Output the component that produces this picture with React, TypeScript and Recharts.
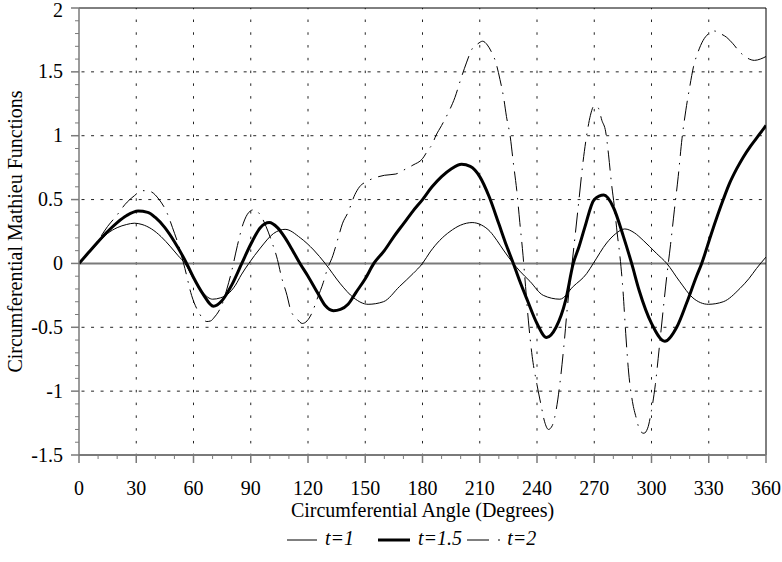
import { LineChart, Line, XAxis, YAxis, CartesianGrid, ReferenceLine, Legend, Label } from "recharts"

const serif = "'Liberation Serif', 'Times New Roman', serif"
const axisColor = "#7a7a7a"
const gridColor = "#222"

// t = 1 (thin)
const t1Angles = [0, 5, 10, 15, 20, 25, 29, 33, 38, 43, 48, 52, 55.5, 60, 65, 70, 74, 78, 82, 85, 89, 95, 102, 108, 116, 123, 129, 137, 144, 151.5, 159.5, 168, 175, 180, 184, 189, 194.4, 200, 206, 211, 215.4, 219, 222.4, 227.6, 231, 236.3, 243.3, 252, 259, 266, 269.5, 276.5, 281, 286, 291, 295.7, 302.5, 308, 314.7, 321.7, 329.8, 337.6, 346.4, 351, 355, 360]
const t1Values = [0, 0.08, 0.16, 0.235, 0.28, 0.305, 0.315, 0.305, 0.27, 0.21, 0.13, 0.06, 0, -0.12, -0.23, -0.28, -0.27, -0.24, -0.17, -0.09, 0, 0.12, 0.235, 0.267, 0.2, 0.105, 0, -0.16, -0.27, -0.32, -0.3, -0.18, -0.08, 0, 0.09, 0.18, 0.25, 0.3, 0.32, 0.3, 0.25, 0.18, 0.105, 0, -0.06, -0.14, -0.25, -0.28, -0.18, -0.08, 0, 0.16, 0.23, 0.27, 0.24, 0.18, 0.08, 0, -0.14, -0.27, -0.32, -0.3, -0.195, -0.12, -0.04, 0.05]

// t = 1.5 (thick)
const t15Angles = [0, 5, 10, 15, 20, 25, 31, 36, 40, 45, 50, 56.4, 60, 65, 70.4, 75, 80, 85.3, 90, 95, 99.7, 104, 108, 112, 115.8, 120, 125, 129, 133.3, 137, 141, 145, 150, 154.5, 160, 165, 170, 175, 180, 185, 190, 195, 200.5, 205, 210, 215, 220, 224, 227.6, 231, 235, 240, 245, 250, 255, 259, 262, 265, 270, 275, 280, 285.3, 289.6, 293.5, 300, 307, 313.2, 318.4, 323.6, 326.3, 331.4, 337.6, 341, 344.6, 348, 352, 356, 360]
const t15Values = [0, 0.085, 0.17, 0.25, 0.32, 0.375, 0.41, 0.4, 0.36, 0.28, 0.17, 0, -0.11, -0.24, -0.335, -0.29, -0.17, 0, 0.15, 0.28, 0.32, 0.28, 0.2, 0.1, 0, -0.1, -0.23, -0.33, -0.37, -0.36, -0.32, -0.23, -0.12, 0, 0.1, 0.21, 0.31, 0.41, 0.5, 0.6, 0.68, 0.74, 0.776, 0.76, 0.68, 0.52, 0.31, 0.14, 0, -0.14, -0.29, -0.47, -0.58, -0.5, -0.29, 0, 0.13, 0.28, 0.5, 0.535, 0.44, 0.21, 0, -0.21, -0.47, -0.61, -0.5, -0.31, -0.1, 0, 0.235, 0.5, 0.63, 0.74, 0.83, 0.92, 1.0, 1.08]

// t = 2 (dash-dot)
const t2Angles = [0, 5, 10, 15, 20, 24, 29, 33, 37, 42, 46, 49, 52, 55.5, 59, 63, 67, 69, 71, 73, 75, 77.5, 80, 83, 86, 89, 91.5, 95, 98, 101, 104, 106, 109, 111, 114, 117, 119.5, 122, 125, 128, 130, 133, 136, 138, 141, 144.6, 147, 150.5, 155, 160, 166, 170, 175, 180, 183, 185, 187, 190, 193.5, 197, 200, 203, 206, 209, 211.5, 214, 216, 218.5, 220.6, 222.5, 224, 226, 227.5, 229.4, 231, 232.7, 234, 235.5, 237.5, 240, 242, 244, 246, 248, 250, 252, 254, 256, 258, 260, 262, 264, 266, 268, 270, 272, 274, 276, 277.5, 279, 280.5, 282, 283.5, 285, 286.5, 288, 290, 292, 294, 296, 298, 300, 302, 304, 306, 308, 310, 312, 314, 316, 318, 320, 322, 324.5, 327, 330, 333, 336, 339.4, 342.7, 346, 350, 354, 357, 360]
const t2Values = [0, 0.09, 0.18, 0.29, 0.38, 0.46, 0.53, 0.57, 0.565, 0.5, 0.4, 0.28, 0.15, -0.04, -0.25, -0.39, -0.455, -0.45, -0.42, -0.38, -0.32, -0.2, -0.06, 0.14, 0.31, 0.4, 0.42, 0.38, 0.29, 0.17, 0.03, -0.1, -0.25, -0.37, -0.43, -0.47, -0.45, -0.39, -0.27, -0.15, -0.05, 0.06, 0.21, 0.31, 0.4, 0.54, 0.6, 0.64, 0.67, 0.69, 0.7, 0.73, 0.77, 0.82, 0.89, 0.93, 1.0, 1.08, 1.18, 1.3, 1.44, 1.57, 1.68, 1.72, 1.74, 1.71, 1.66, 1.57, 1.44, 1.3, 1.15, 0.99, 0.8, 0.57, 0.32, 0.06, -0.18, -0.45, -0.73, -0.95, -1.1, -1.24, -1.3, -1.27, -1.15, -0.94, -0.66, -0.33, -0.05, 0.22, 0.5, 0.78, 1.0, 1.16, 1.235, 1.22, 1.12, 1.03, 0.85, 0.63, 0.45, 0.24, 0.05, -0.2, -0.55, -0.85, -1.08, -1.21, -1.31, -1.33, -1.29, -1.15, -0.95, -0.67, -0.38, -0.1, 0.15, 0.42, 0.68, 0.98, 1.2, 1.38, 1.54, 1.66, 1.745, 1.8, 1.82, 1.8, 1.77, 1.72, 1.66, 1.61, 1.59, 1.6, 1.62]

const xTicks = [0, 10, 20, 30, 40, 50, 60, 70, 80, 90, 100, 110, 120, 130, 140, 150, 160, 170, 180, 190, 200, 210, 220, 230, 240, 250, 260, 270, 280, 290, 300, 310, 320, 330, 340, 350, 360]
const xGridValues = [30, 60, 90, 120, 150, 180, 210, 240, 270, 300, 330]
const yMajorTicks = [-1.5, -1, -0.5, 0, 0.5, 1, 1.5, 2]
const yTicks = Array.from({ length: 36 }, (_, i) => Math.round(-15 + i) / 10)
const yGridValues = [-1, -0.5, 0.5, 1, 1.5]

const toRows = (angles: number[], values: number[]) => angles.map((a, i) => ({ angle: a, value: values[i] }))
const t1Data = toRows(t1Angles, t1Values)
const t15Data = toRows(t15Angles, t15Values)
const t2Data = toRows(t2Angles, t2Values)

const dashDot = "20 7 1.5 7"

function XTick({ x, y, payload }: any) {
    const major = payload.value % 30 === 0
    return (
        <g>
            <line x1={x} x2={x} y1={y} y2={y + (major ? 8 : 4)} stroke={axisColor} strokeWidth={major ? 1.5 : 1} />
            {major && (
                <text x={x} y={y + 40} textAnchor="middle" fontSize={20} fontFamily={serif} fill="#000">
                    {payload.value}
                </text>
            )}
        </g>
    )
}

function YTick({ x, y, payload }: any) {
    const major = yMajorTicks.some((v) => Math.abs(v - payload.value) < 1e-6)
    // the top label is nudged down a little so it stays inside the page
    const textY = Math.max(y, 10)
    return (
        <g>
            <line x1={x} x2={x - (major ? 8 : 4)} y1={y} y2={y} stroke={axisColor} strokeWidth={major ? 1.5 : 1} />
            {major && (
                <text x={x - 16} y={textY} dy="0.33em" textAnchor="end" fontSize={20} fontFamily={serif} fill="#000">
                    {payload.value}
                </text>
            )}
        </g>
    )
}

const renderXLabel = ({ viewBox }: any) => (
    <text x={viewBox.x + viewBox.width / 2} y={viewBox.y + 62} textAnchor="middle" fontSize={20} fontFamily={serif} fill="#000">
        Circumferential Angle (Degrees)
    </text>
)

const renderYLabel = ({ viewBox }: any) => {
    const cx = 22
    const cy = viewBox.y + viewBox.height / 2
    return (
        <text x={cx} y={cy} transform={`rotate(-90 ${cx} ${cy})`} textAnchor="middle" fontSize={20} fontFamily={serif} fill="#000">
            Circumferential Mathieu Functions
        </text>
    )
}

const legendItems = [
    { name: "t=1", width: 30, gap: 0, strokeWidth: 1, dash: undefined as string | undefined, textGap: 8 },
    { name: "t=1.5", width: 32, gap: 24, strokeWidth: 3, dash: undefined, textGap: 8 },
    { name: "t=2", width: 35, gap: 5, strokeWidth: 1, dash: "22 9 2 9", textGap: 5 },
]

const renderLegend = () => (
    <div style={{ display: "flex", alignItems: "center", paddingLeft: 287, height: 20, fontFamily: serif, fontSize: 20, fontStyle: "italic", lineHeight: "20px" }}>
        {legendItems.map((item) => (
            <div key={item.name} style={{ display: "flex", alignItems: "center", marginLeft: item.gap }}>
                <svg width={item.width} height={20}>
                    <line x1={0} x2={item.width} y1={12} y2={12} stroke="#000" strokeWidth={item.strokeWidth} strokeDasharray={item.dash} />
                </svg>
                <span style={{ marginLeft: item.textGap }}>{item.name}</span>
            </div>
        ))}
    </div>
)

export default function App() {
    return (
        <div style={{ position: "absolute", left: 0, top: 0, width: 782, height: 562, background: "#fff" }}>
            <LineChart width={782} height={562} margin={{ top: 8, right: 16, bottom: 0, left: 0 }}>
                <CartesianGrid horizontal={false} verticalValues={xGridValues} stroke={gridColor} strokeDasharray="2.5 10.27" strokeDashoffset={1.25} />
                <CartesianGrid vertical={false} horizontalValues={yGridValues} stroke={gridColor} strokeDasharray="3 6.54" strokeDashoffset={-2.5} />
                <XAxis
                    dataKey="angle"
                    type="number"
                    domain={[0, 360]}
                    ticks={xTicks}
                    interval={0}
                    tick={<XTick />}
                    tickLine={false}
                    tickSize={0}
                    tickMargin={0}
                    height={107}
                    axisLine={{ stroke: axisColor, strokeWidth: 2 }}
                    allowDataOverflow
                >
                    <Label content={renderXLabel} />
                </XAxis>
                <YAxis
                    type="number"
                    domain={[-1.5, 2]}
                    ticks={yTicks}
                    interval={0}
                    tick={<YTick />}
                    tickLine={false}
                    tickSize={0}
                    tickMargin={0}
                    width={79}
                    axisLine={{ stroke: axisColor, strokeWidth: 1.5 }}
                    allowDataOverflow
                >
                    <Label content={renderYLabel} />
                </YAxis>
                <ReferenceLine y={0} stroke={axisColor} strokeWidth={2} />
                <ReferenceLine y={2} stroke="#000" strokeWidth={1} />
                <ReferenceLine x={360} stroke="#000" strokeWidth={1} />
                <Line data={t1Data} dataKey="value" name="t=1" type="monotone" stroke="#000" strokeWidth={1} dot={false} isAnimationActive={false} />
                <Line data={t15Data} dataKey="value" name="t=1.5" type="monotone" stroke="#000" strokeWidth={3} dot={false} isAnimationActive={false} />
                <Line data={t2Data} dataKey="value" name="t=2" type="monotone" stroke="#000" strokeWidth={1} strokeDasharray={dashDot} dot={false} isAnimationActive={false} />
                <Legend verticalAlign="middle" align="center" layout="horizontal" wrapperStyle={{ top: 528, left: 0, width: 782 }} content={renderLegend} />
            </LineChart>
        </div>
    )
}
